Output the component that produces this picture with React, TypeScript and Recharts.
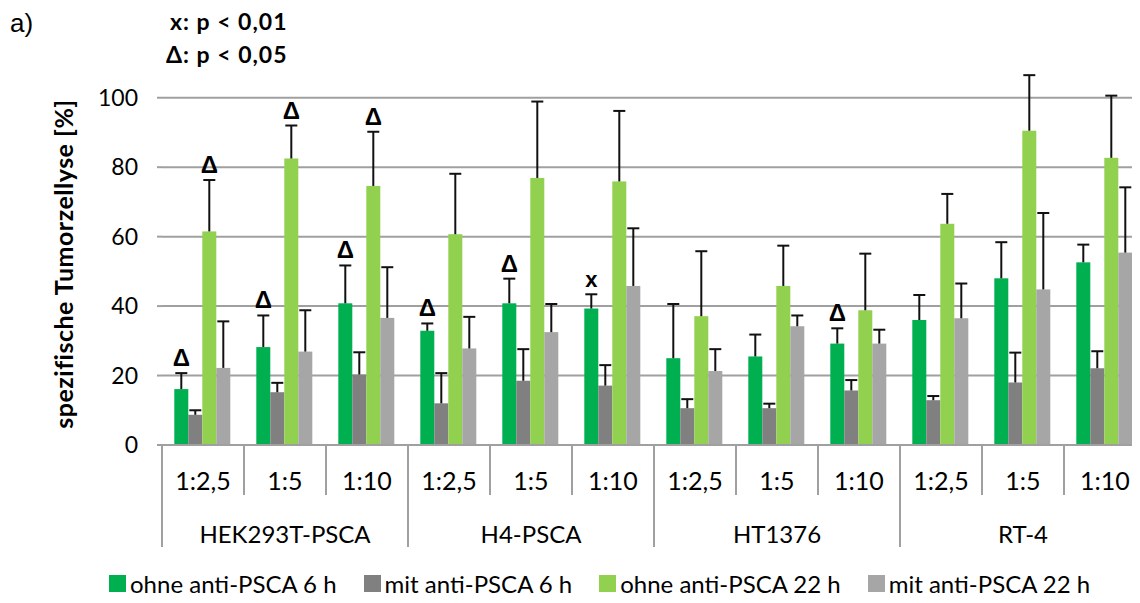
import React from "react";
import { BarChart, Bar, XAxis, YAxis, CartesianGrid } from "recharts";

const ratios = ["1:2,5", "1:5", "1:10", "1:2,5", "1:5", "1:10", "1:2,5", "1:5", "1:10", "1:2,5", "1:5", "1:10"];
const cellLines = ["HEK293T-PSCA", "H4-PSCA", "HT1376", "RT-4"];
const yTicks = [0, 20, 40, 60, 80, 100];

// means and upper error (SD) per ratio
const ohne6 = [16.1, 28.2, 40.8, 32.9, 40.8, 39.3, 25.0, 25.5, 29.2, 36.0, 48.0, 52.6];
const ohne6Err = [4.6, 9.1, 10.9, 2.1, 7.1, 4.1, 15.6, 6.3, 4.4, 7.2, 10.4, 5.1];
const mit6 = [8.7, 15.2, 20.3, 12.0, 18.5, 17.1, 10.6, 10.6, 15.7, 12.9, 18.0, 22.1];
const mit6Err = [1.3, 2.7, 6.4, 8.7, 9.1, 5.9, 2.6, 1.3, 3.0, 1.2, 8.6, 4.9];
const ohne22 = [61.5, 82.5, 74.6, 60.7, 76.9, 75.9, 37.1, 45.8, 38.8, 63.7, 90.5, 82.7];
const ohne22Err = [14.8, 9.5, 15.6, 17.4, 22.0, 20.3, 18.7, 11.6, 16.3, 8.6, 16.0, 17.9];
const mit22 = [22.2, 26.9, 36.6, 27.8, 32.5, 45.8, 21.3, 34.2, 29.2, 36.5, 44.8, 55.4];
const mit22Err = [13.4, 11.9, 14.6, 9.1, 8.1, 16.6, 6.3, 3.1, 4.0, 10.0, 22.0, 18.8];

// significance marks (x: p < 0,01, Δ: p < 0,05)
const ohne6Sig = ["Δ", "Δ", "Δ", "Δ", "Δ", "x", "", "", "Δ", "", "", ""];
const ohne22Sig = ["Δ", "Δ", "Δ", "", "", "", "", "", "", "", "", ""];
const noSig = ratios.map(() => "");

const data = ratios.map((ratio, i) => ({
  ratio,
  ohne6: ohne6[i], ohne6Err: ohne6Err[i], ohne6Sig: ohne6Sig[i],
  mit6: mit6[i], mit6Err: mit6Err[i], mit6Sig: noSig[i],
  ohne22: ohne22[i], ohne22Err: ohne22Err[i], ohne22Sig: ohne22Sig[i],
  mit22: mit22[i], mit22Err: mit22Err[i], mit22Sig: noSig[i],
}));

const series = [
  { key: "ohne6", name: "ohne anti-PSCA 6 h", color: "#00B050" },
  { key: "mit6", name: "mit anti-PSCA 6 h", color: "#808080" },
  { key: "ohne22", name: "ohne anti-PSCA 22 h", color: "#92D050" },
  { key: "mit22", name: "mit anti-PSCA 22 h", color: "#A6A6A6" },
];

const FONT = "Lato, 'Open Sans', sans-serif";
const BOLD = "'Liberation Sans', Arial, sans-serif";
const GRID = "#A0A0A0";

// bar + upper whisker + significance mark
const makeShape = (key: string, color: string) => (props: any) => {
  const { x, y, width, height, payload } = props;
  const v = payload[key];
  const e = payload[key + "Err"];
  const mark = payload[key + "Sig"];
  const perUnit = v ? height / v : 0;
  const cx = x + width / 2;
  const top = y - e * perUnit;
  return (
    <g>
      <rect x={x} y={y} width={width} height={height} fill={color} />
      <line x1={cx} x2={cx} y1={y} y2={top} stroke="#111" strokeWidth={2} />
      <line x1={cx - 6} x2={cx + 6} y1={top} y2={top} stroke="#111" strokeWidth={2} />
      {mark ? (
        <text x={cx} y={top - 7} textAnchor="middle" fontFamily={BOLD} fontWeight="bold" fontSize={mark === "x" ? 22 : 24} fill="#000">
          {mark}
        </text>
      ) : null}
    </g>
  );
};

const CategoryTick = (props: any) => {
  const { x, y, payload } = props;
  const i = payload.index;
  const half = payload.offset || 41;
  const left = x - half;
  const right = x + half;
  return (
    <g>
      <line x1={left} x2={left} y1={y} y2={y + (i % 3 === 0 ? 102 : 50)} stroke={GRID} strokeWidth={2} />
      {i === ratios.length - 1 && (
        <line x1={right} x2={right} y1={y} y2={y + 102} stroke={GRID} strokeWidth={2} />
      )}
      <text x={x} y={y + 35} textAnchor="middle" dominantBaseline="central" fontFamily={FONT} fontSize={25} fill="#000">
        {payload.value}
      </text>
      {i % 3 === 1 && (
        <text x={x} y={y + 88} textAnchor="middle" dominantBaseline="central" fontFamily={FONT} fontSize={24} fill="#000">
          {cellLines[Math.floor(i / 3)]}
        </text>
      )}
    </g>
  );
};

const YLabel = (props: any) => {
  const { viewBox } = props;
  const cx = viewBox.x - 39;
  const cy = viewBox.y + viewBox.height / 2 + 10;
  return (
    <text
      x={cx}
      y={cy}
      transform={`rotate(-90 ${cx} ${cy})`}
      textAnchor="middle"
      dominantBaseline="central"
      fontFamily={FONT}
      fontWeight="bold"
      fontSize={25}
      letterSpacing={0.5}
      fill="#000"
    >
      spezifische Tumorzellyse [%]
    </text>
  );
};

export default function App() {
  return (
    <div style={{ position: "relative", width: 1124, height: 587, fontFamily: FONT }}>
      <div style={{ position: "absolute", left: 0, top: 0, width: 1132, height: 545, overflow: "hidden" }}>
        <BarChart
          width={1140}
          height={545}
          data={data}
          margin={{ top: 55, right: 2, left: 94, bottom: 0 }}
          barCategoryGap="15%"
          barGap={0}
        >
          <CartesianGrid vertical={false} horizontalValues={yTicks} stroke={GRID} strokeWidth={2} />
          <XAxis
            dataKey="ratio"
            interval={0}
            height={108}
            tickLine={false}
            tickSize={0}
            tickMargin={0}
            axisLine={{ stroke: GRID, strokeWidth: 2 }}
            tick={<CategoryTick />}
          />
          <YAxis
            width={60}
            domain={[0, 110]}
            ticks={yTicks}
            axisLine={false}
            tickLine={{ stroke: GRID, strokeWidth: 2 }}
            tickSize={5}
            tickMargin={19}
            tick={{ fill: "#000", fontSize: 23, fontFamily: FONT }}
            label={YLabel}
          />
          {series.map((s) => (
            <Bar key={s.key} dataKey={s.key} name={s.name} fill={s.color} isAnimationActive={false} shape={makeShape(s.key, s.color)} />
          ))}
        </BarChart>
      </div>

      <svg width={400} height={70} style={{ position: "absolute", left: 0, top: 0 }}>
        <text x={2} y={24} fontFamily={BOLD} fontSize={26} fill="#000">a)</text>
        <text x={162} y={22} fontFamily={FONT} fontWeight="bold" fontSize={23} letterSpacing={1} fill="#000">x: p &lt; 0,01</text>
        <text x={158} y={55} fontFamily={FONT} fontWeight="bold" fontSize={23} letterSpacing={1} fill="#000">Δ: p &lt; 0,05</text>
      </svg>

      <div style={{ position: "absolute", left: 101, top: 567, display: "flex", alignItems: "center" }}>
        {series.map((s) => (
          <div key={s.key} style={{ display: "flex", alignItems: "center", marginRight: 27 }}>
            <div style={{ width: 17, height: 17, background: s.color, marginRight: 4 }} />
            <span style={{ fontSize: 24, lineHeight: "17px", color: "#000", whiteSpace: "nowrap" }}>{s.name}</span>
          </div>
        ))}
      </div>
    </div>
  );
}
